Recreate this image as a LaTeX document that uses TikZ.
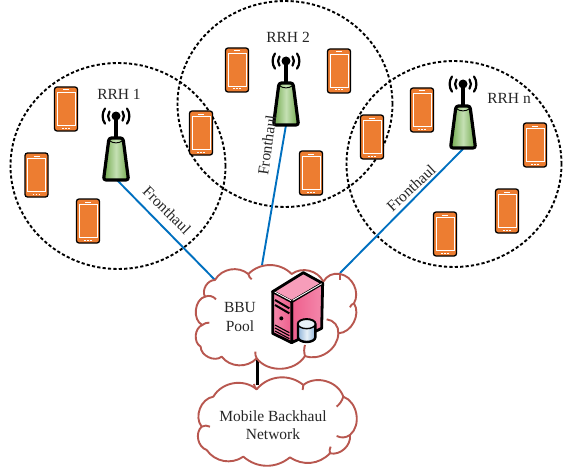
\documentclass[tikz,border=0pt]{standalone}
\usepackage{fontspec}
\usetikzlibrary{shapes.geometric}
\setmainfont{Liberation Serif}
\begin{document}
\definecolor{phoneor}{HTML}{ED7D31}
\definecolor{linkblue}{HTML}{0070C0}
\definecolor{cloudred}{HTML}{B8574F}
\definecolor{twedge}{HTML}{6FA84A}
\definecolor{twmid}{HTML}{C5E0B4}
\definecolor{srvA}{HTML}{F488AB}
\definecolor{srvB}{HTML}{EE5F8D}
\definecolor{srvC}{HTML}{F79DBA}
\definecolor{drumA}{HTML}{8FB4D9}
\definecolor{drumB}{HTML}{E8F1F8}
\begin{tikzpicture}[x=1pt,y=-1pt,
  cell/.style={ellipse,draw=black,line width=1.9pt,dash pattern=on 3.2pt off 2.2pt,minimum width=215pt,minimum height=206pt,inner sep=0pt},
  link/.style={draw=linkblue,line width=1.9pt},
  cloudline/.style={draw=cloudred,line width=1.9pt,line join=round},
  lbl/.style={font=\fontsize{15.5}{18}\selectfont,align=center,text=black!85,inner sep=0pt},
  phone/.pic={
    \draw[black,line width=1.3pt,fill=phoneor,rounded corners=2.5pt] (-11.5,-22) rectangle (11.5,22);
    \draw[white,line width=.8pt] (-9,-16.5) rectangle (9,16);
    \draw[white,line width=1pt] (-3,-19) -- (3,-19);
    \draw[white,line width=1pt,dash pattern=on 1.5pt off 1.5pt] (-4,19) -- (4,19);
  },
  towerpic/.pic={
    \draw[black,line width=3.2pt] (0,0) -- (0,24);
    \draw[black,line width=3.2pt,left color=twedge,right color=twedge,middle color=twmid,line join=round,rounded corners=2.5pt]
      (-7,22) -- (7,22) -- (12.5,64) -- (-12.5,64) -- cycle;
    \draw[black,line width=.9pt] (-6,25) .. controls (-3,27.5) and (3,27.5) .. (6,25);
    \fill[black] (0,0) circle (4.5pt);
    \draw[black,line width=2.2pt,line cap=round] (-6.5,-4.5) arc[start angle=215,end angle=145,radius=8];
    \draw[black,line width=2.2pt,line cap=round] (6.5,-4.5) arc[start angle=-35,end angle=35,radius=8];
    \draw[black,line width=2.2pt,line cap=round] (-11,-7.5) arc[start angle=215,end angle=145,radius=13.2];
    \draw[black,line width=2.2pt,line cap=round] (11,-7.5) arc[start angle=-35,end angle=35,radius=13.2];
  }]
\useasboundingbox (0,0) rectangle (564,468);
\fill[white] (0,0) rectangle (564,468);

\node[cell] (c1) at (118,166) {};
\node[cell] (c2) at (285,104) {};
\node[cell] (c3) at (454,164) {};

\foreach \x/\y/\n in {66/109/a,36.5/175/b,88/221/c,201/133/d,237/70/e,339/71/f,311/173/g,372/137/h,422/110/i,535/145/j,507/211/k,445/234/l}
  \pic (ph\n) at (\x,\y) {phone};

\coordinate (t1) at (116,179);
\coordinate (t2) at (286,125);
\coordinate (t3) at (463,149);
\coordinate (b1) at (215,280);
\coordinate (b2) at (262,265);
\coordinate (b3) at (340,273);
\coordinate (b4) at (257.5,357);
\coordinate (m1) at (257.5,385);

\draw[link] (t1) -- (b1);
\draw[link] (t2) -- (b2);
\draw[link] (t3) -- (b3);
\draw[black,line width=2.2pt] (b4) -- (m1);

\pic (tw1) at (116,116) {towerpic};
\pic (tw2) at (286,61) {towerpic};
\pic (tw3) at (463,84) {towerpic};

\begin{scope}[shift={(180,250)},x=.3333pt,y=-.3333pt]
  \path[cloudline,fill=white] (125,320) to[bend left=65] (62,290) to[bend left=65] (67,225)
    to[bend left=70] (75,140) to[bend left=60] (105,90) to[bend left=50] (205,72)
    to[bend left=45] (335,72) to[bend left=50] (430,95) to[bend left=35] (480,72)
    to[bend left=55] (522,160) to[bend left=60] (475,250) to[bend left=55] (375,318)
    to[bend left=55] (230,325) to[bend left=50] (125,320) -- cycle;
  \draw[cloudline] (75,140) to[bend left=35] (108,148);
  \draw[cloudline] (205,72) to[bend right=20] (215,88);
  \draw[cloudline] (480,72) to[bend left=15] (480,90);
  \draw[cloudline] (522,160) to[bend right=25] (510,172);
  \draw[cloudline] (475,250) to[bend right=45] (440,208);
  \draw[cloudline] (375,318) to[bend left=15] (375,285);
  \draw[cloudline] (230,325) to[bend left=15] (226,305);
  \draw[cloudline] (67,225) to[bend left=20] (88,218);
  \path[cloudline,fill=white] (100,440) to[bend left=50] (230,418) to[bend left=45] (370,405)
    to[bend left=55] (490,440) to[bend left=60] (510,555) to[bend left=55] (450,610)
    to[bend left=40] (330,622) to[bend left=40] (190,620) to[bend left=45] (80,600)
    to[bend left=60] (65,530) to[bend left=60] (100,440) -- cycle;
  \draw[cloudline] (230,418) to[bend left=20] (222,402);
  \draw[cloudline] (370,405) to[bend right=15] (368,420);
  \draw[cloudline] (490,440) to[bend left=15] (470,470);
  \draw[cloudline] (510,555) to[bend left=30] (470,558);
  \draw[cloudline] (450,610) to[bend left=20] (452,590);
  \draw[cloudline] (65,530) to[bend left=25] (90,530);
  \draw[black,line width=2.8pt,line join=round,fill=srvC] (278,125) -- (370,68) -- (428,100) -- (335,155) -- cycle;
  \draw[black,line width=2.8pt,line join=round,left color=srvB,right color=srvA] (335,155) -- (428,100) -- (425,235) -- (335,278) -- cycle;
  \draw[black,line width=2.8pt,line join=round,left color=srvA,right color=srvB] (278,125) -- (335,155) -- (335,278) -- (278,250) -- cycle;
  \draw[white,line width=.9pt] (338,151) -- (425,101);
  \draw[white,line width=.9pt] (284,126) -- (333,152);
  \draw[black,line width=2pt] (285,150) -- (328,175);
  \draw[black,line width=2pt] (285,165) -- (328,190);
  \fill[black] (304,205) circle (6);
  \foreach \d in {0,9,18,27} \draw[black,line width=1.1pt] (285,225+\d) -- (328,248+\d);
  \draw[black,line width=2.4pt,left color=drumA,right color=drumA,middle color=drumB]
    (354,222) -- (354,262) arc[start angle=180,end angle=0,x radius=26,y radius=14] -- (406,222) arc[start angle=0,end angle=-180,x radius=26,y radius=14] -- cycle;
  \draw[black,line width=1.4pt,fill=drumB] (380,222) ellipse[x radius=26,y radius=14];
\end{scope}

\node[lbl] (r1) at (119,94) {RRH 1};
\node[lbl] (r2) at (288,37) {RRH 2};
\node[lbl] (r3) at (509,98) {RRH n};
\node[lbl,rotate=-45] (f1) at (167,210) {Fronthaul};
\node[lbl,rotate=82] (f2) at (267,145) {Fronthaul};
\node[lbl,rotate=43] (f3) at (411,188) {Fronthaul};
\node[lbl] (bbu) at (240,317) {BBU\\[1.5pt]Pool};
\node[lbl] (mbn) at (273,425) {Mobile Backhaul\\Network};
\end{tikzpicture}
\end{document}
